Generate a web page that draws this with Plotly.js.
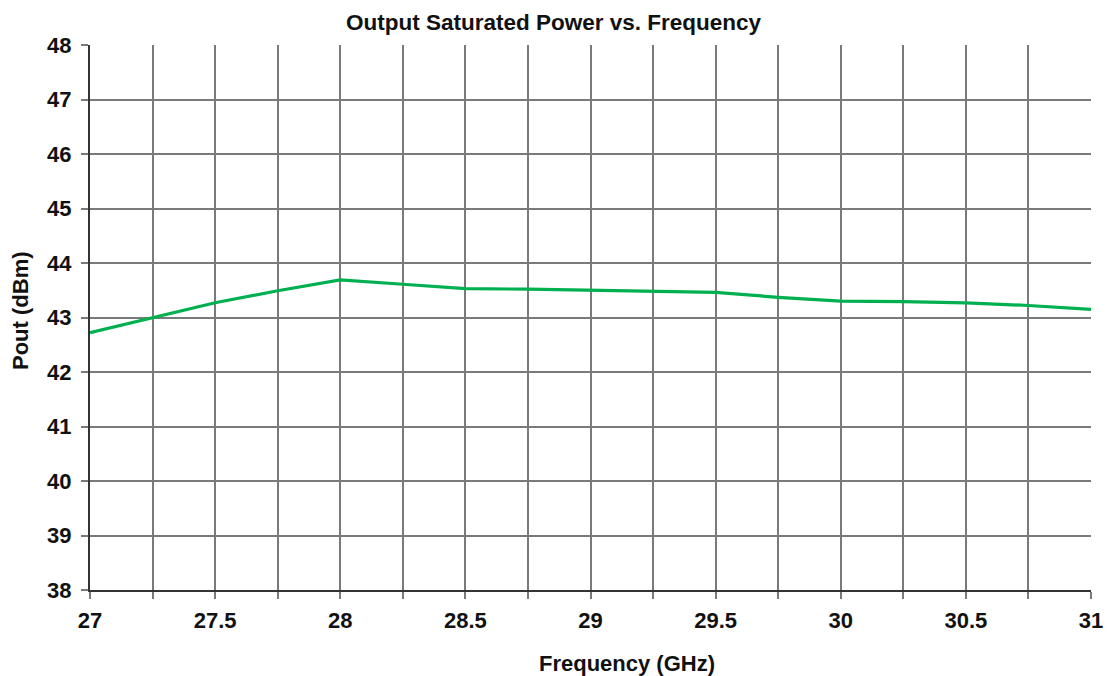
<!DOCTYPE html>
<html>
<head>
<meta charset="utf-8">
<script src="https://cdn.plot.ly/plotly-3.0.1.min.js"></script>
<style>html,body{margin:0;padding:0;background:#fff;}#chart{width:1110px;height:676px;}</style>
</head>
<body>
<div id="chart"></div>
<script>
const frequency = [27, 27.25, 27.5, 27.75, 28, 28.25, 28.5, 28.75, 29, 29.25, 29.5, 29.75, 30, 30.25, 30.5, 30.75, 31];
const pout = [42.72, 42.99, 43.27, 43.49, 43.69, 43.61, 43.53, 43.52, 43.50, 43.48, 43.46, 43.37, 43.30, 43.29, 43.27, 43.22, 43.15];
const xGrid = [27, 27.25, 27.5, 27.75, 28, 28.25, 28.5, 28.75, 29, 29.25, 29.5, 29.75, 30, 30.25, 30.5, 30.75, 31];
const xLabels = ['27', '', '27.5', '', '28', '', '28.5', '', '29', '', '29.5', '', '30', '', '30.5', '', '31'];
const yTicks = [38, 39, 40, 41, 42, 43, 44, 45, 46, 47, 48];

const font = {family: '"Liberation Sans", Arial, sans-serif', color: '#111'};
const f = (s) => Object.assign({size: s}, font);
Plotly.newPlot('chart', [{
  x: frequency, y: pout, type: 'scatter', mode: 'lines',
  line: {color: '#00b050', width: 3.2}, hoverinfo: 'skip'
}], {
  width: 1110, height: 676,
  margin: {l: 90, r: 19, t: 45, b: 86},
  paper_bgcolor: '#fff', plot_bgcolor: '#fff',
  showlegend: false,
  title: {text: '<b>Output Saturated Power vs. Frequency</b>', x: 553.5 / 1110, xanchor: 'center', y: 0.967, yanchor: 'middle', font: f(22.5)},
  annotations: [
    {text: '<b>Frequency (GHz)</b>', xref: 'paper', yref: 'paper', x: (627 - 90) / 1001, y: -(663 - 590) / 545,
     xanchor: 'center', yanchor: 'middle', showarrow: false, font: f(22)},
    {text: '<b>Pout (dBm)</b>', xref: 'paper', yref: 'paper', x: (20 - 90) / 1001, y: (590 - 311) / 545,
     xanchor: 'center', yanchor: 'middle', showarrow: false, textangle: -90, font: f(22)}
  ],
  xaxis: {
    range: [27, 31], tickvals: xGrid, ticktext: xLabels,
    showgrid: true, gridcolor: '#7a7a7a', gridwidth: 2,
    ticks: 'outside', ticklen: 7, tickcolor: '#7a7a7a', tickwidth: 2,
    ticklabelstandoff: 3,
    showline: true, linecolor: '#333', linewidth: 2, zeroline: false,
    tickfont: f(22),
    automargin: false, fixedrange: true
  },
  yaxis: {
    range: [38, 48], tickvals: yTicks, ticktext: yTicks.map(String),
    showgrid: true, gridcolor: '#7a7a7a', gridwidth: 2,
    ticks: 'outside', ticklen: 7, tickcolor: '#7a7a7a', tickwidth: 2,
    ticklabelstandoff: 5,
    showline: true, linecolor: '#333', linewidth: 2, zeroline: false,
    tickfont: f(22),
    automargin: false, fixedrange: true
  }
}, {displayModeBar: false, staticPlot: true}).then(() => {
  document.querySelectorAll('.xtick text, .ytick text').forEach(t => t.style.fontWeight = 'bold');
});
</script>
</body>
</html>
